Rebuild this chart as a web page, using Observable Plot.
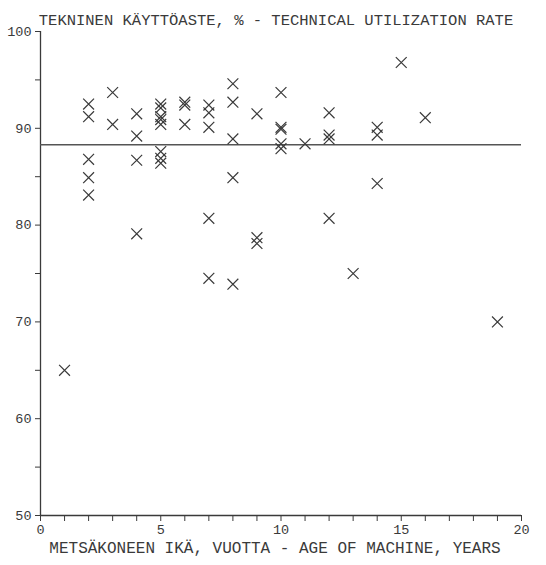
<!DOCTYPE html>
<html>
<head>
<meta charset="utf-8">
<script src="https://cdn.jsdelivr.net/npm/d3@7"></script>
<script src="https://cdn.jsdelivr.net/npm/@observablehq/plot@0.6"></script>
<style>
  html, body { margin: 0; padding: 0; background: #fff; }
</style>
</head>
<body>
<div id="chart"></div>
<script>
// Age of machine (years)
const ages = [
  1,
  2, 2, 2, 2, 2,
  3, 3,
  4, 4, 4, 4,
  5, 5, 5, 5, 5, 5, 5, 5,
  6, 6, 6,
  7, 7, 7, 7, 7,
  8, 8, 8, 8, 8,
  9, 9, 9,
  10, 10, 10, 10, 10,
  11,
  12, 12, 12, 12,
  13,
  14, 14, 14,
  15,
  16,
  19
];
// Technical utilization rate (%)
const rates = [
  65.0,
  92.5, 91.2, 86.8, 84.9, 83.1,
  93.7, 90.4,
  91.5, 89.2, 86.7, 79.1,
  92.5, 92.1, 91.2, 90.9, 90.4, 87.6, 86.9, 86.4,
  92.7, 92.4, 90.4,
  92.4, 91.6, 90.1, 80.7, 74.5,
  94.6, 92.7, 88.9, 84.9, 73.9,
  91.5, 78.7, 78.1,
  93.7, 90.1, 89.9, 88.4, 87.9,
  88.4,
  91.6, 89.3, 88.9, 80.7,
  75.0,
  90.1, 89.3, 84.3,
  96.8,
  91.1,
  70.0
];
const meanRate = [88.3];
const xTicks = d3.range(0, 21, 1);
const yTicks = d3.range(50, 101, 5);

const titleText = ["TEKNINEN KÄYTTÖASTE, % - TECHNICAL UTILIZATION RATE"];
const xLabelText = ["METSÄKONEEN IKÄ, VUOTTA - AGE OF MACHINE, YEARS"];

const data = ages.map((a, i) => ({age: a, rate: rates[i]}));

const ink = "#3a3a3a";

const chart = Plot.plot({
  width: 546,
  height: 565,
  marginLeft: 40,
  marginRight: 25,
  marginTop: 31,
  marginBottom: 50,
  style: {fontFamily: "'Liberation Mono', 'DejaVu Sans Mono', monospace", fontSize: "13.5px", color: ink, background: "#fff"},
  x: {domain: [0, 20]},
  y: {domain: [50, 100]},
  marks: [
    Plot.axisX({ticks: xTicks, tickSize: 6, tickPadding: 3, stroke: ink, tickFormat: d => d % 5 === 0 ? String(d) : "", label: null}),
    Plot.axisY({ticks: yTicks, tickSize: 5, tickPadding: 4, stroke: ink, tickFormat: d => d % 10 === 0 ? String(d) : "", label: null}),
    Plot.ruleX([0], {stroke: ink, strokeWidth: 1.3}),
    Plot.ruleY([50], {stroke: ink, strokeWidth: 1.3}),
    Plot.ruleY(meanRate, {stroke: "#555", strokeWidth: 1.3}),
    Plot.dot(data, {x: "age", y: "rate", symbol: "times", r: 5, stroke: ink, strokeWidth: 1.2}),
    Plot.text(titleText, {frameAnchor: "top", dy: -18, fontSize: 15.5, fill: ink, textAnchor: "middle", dx: -5}),
    Plot.text(xLabelText, {frameAnchor: "bottom", dy: 37, fontSize: 16, fill: ink, textAnchor: "middle", dx: -6})
  ]
});

document.getElementById("chart").appendChild(chart);
</script>
</body>
</html>
